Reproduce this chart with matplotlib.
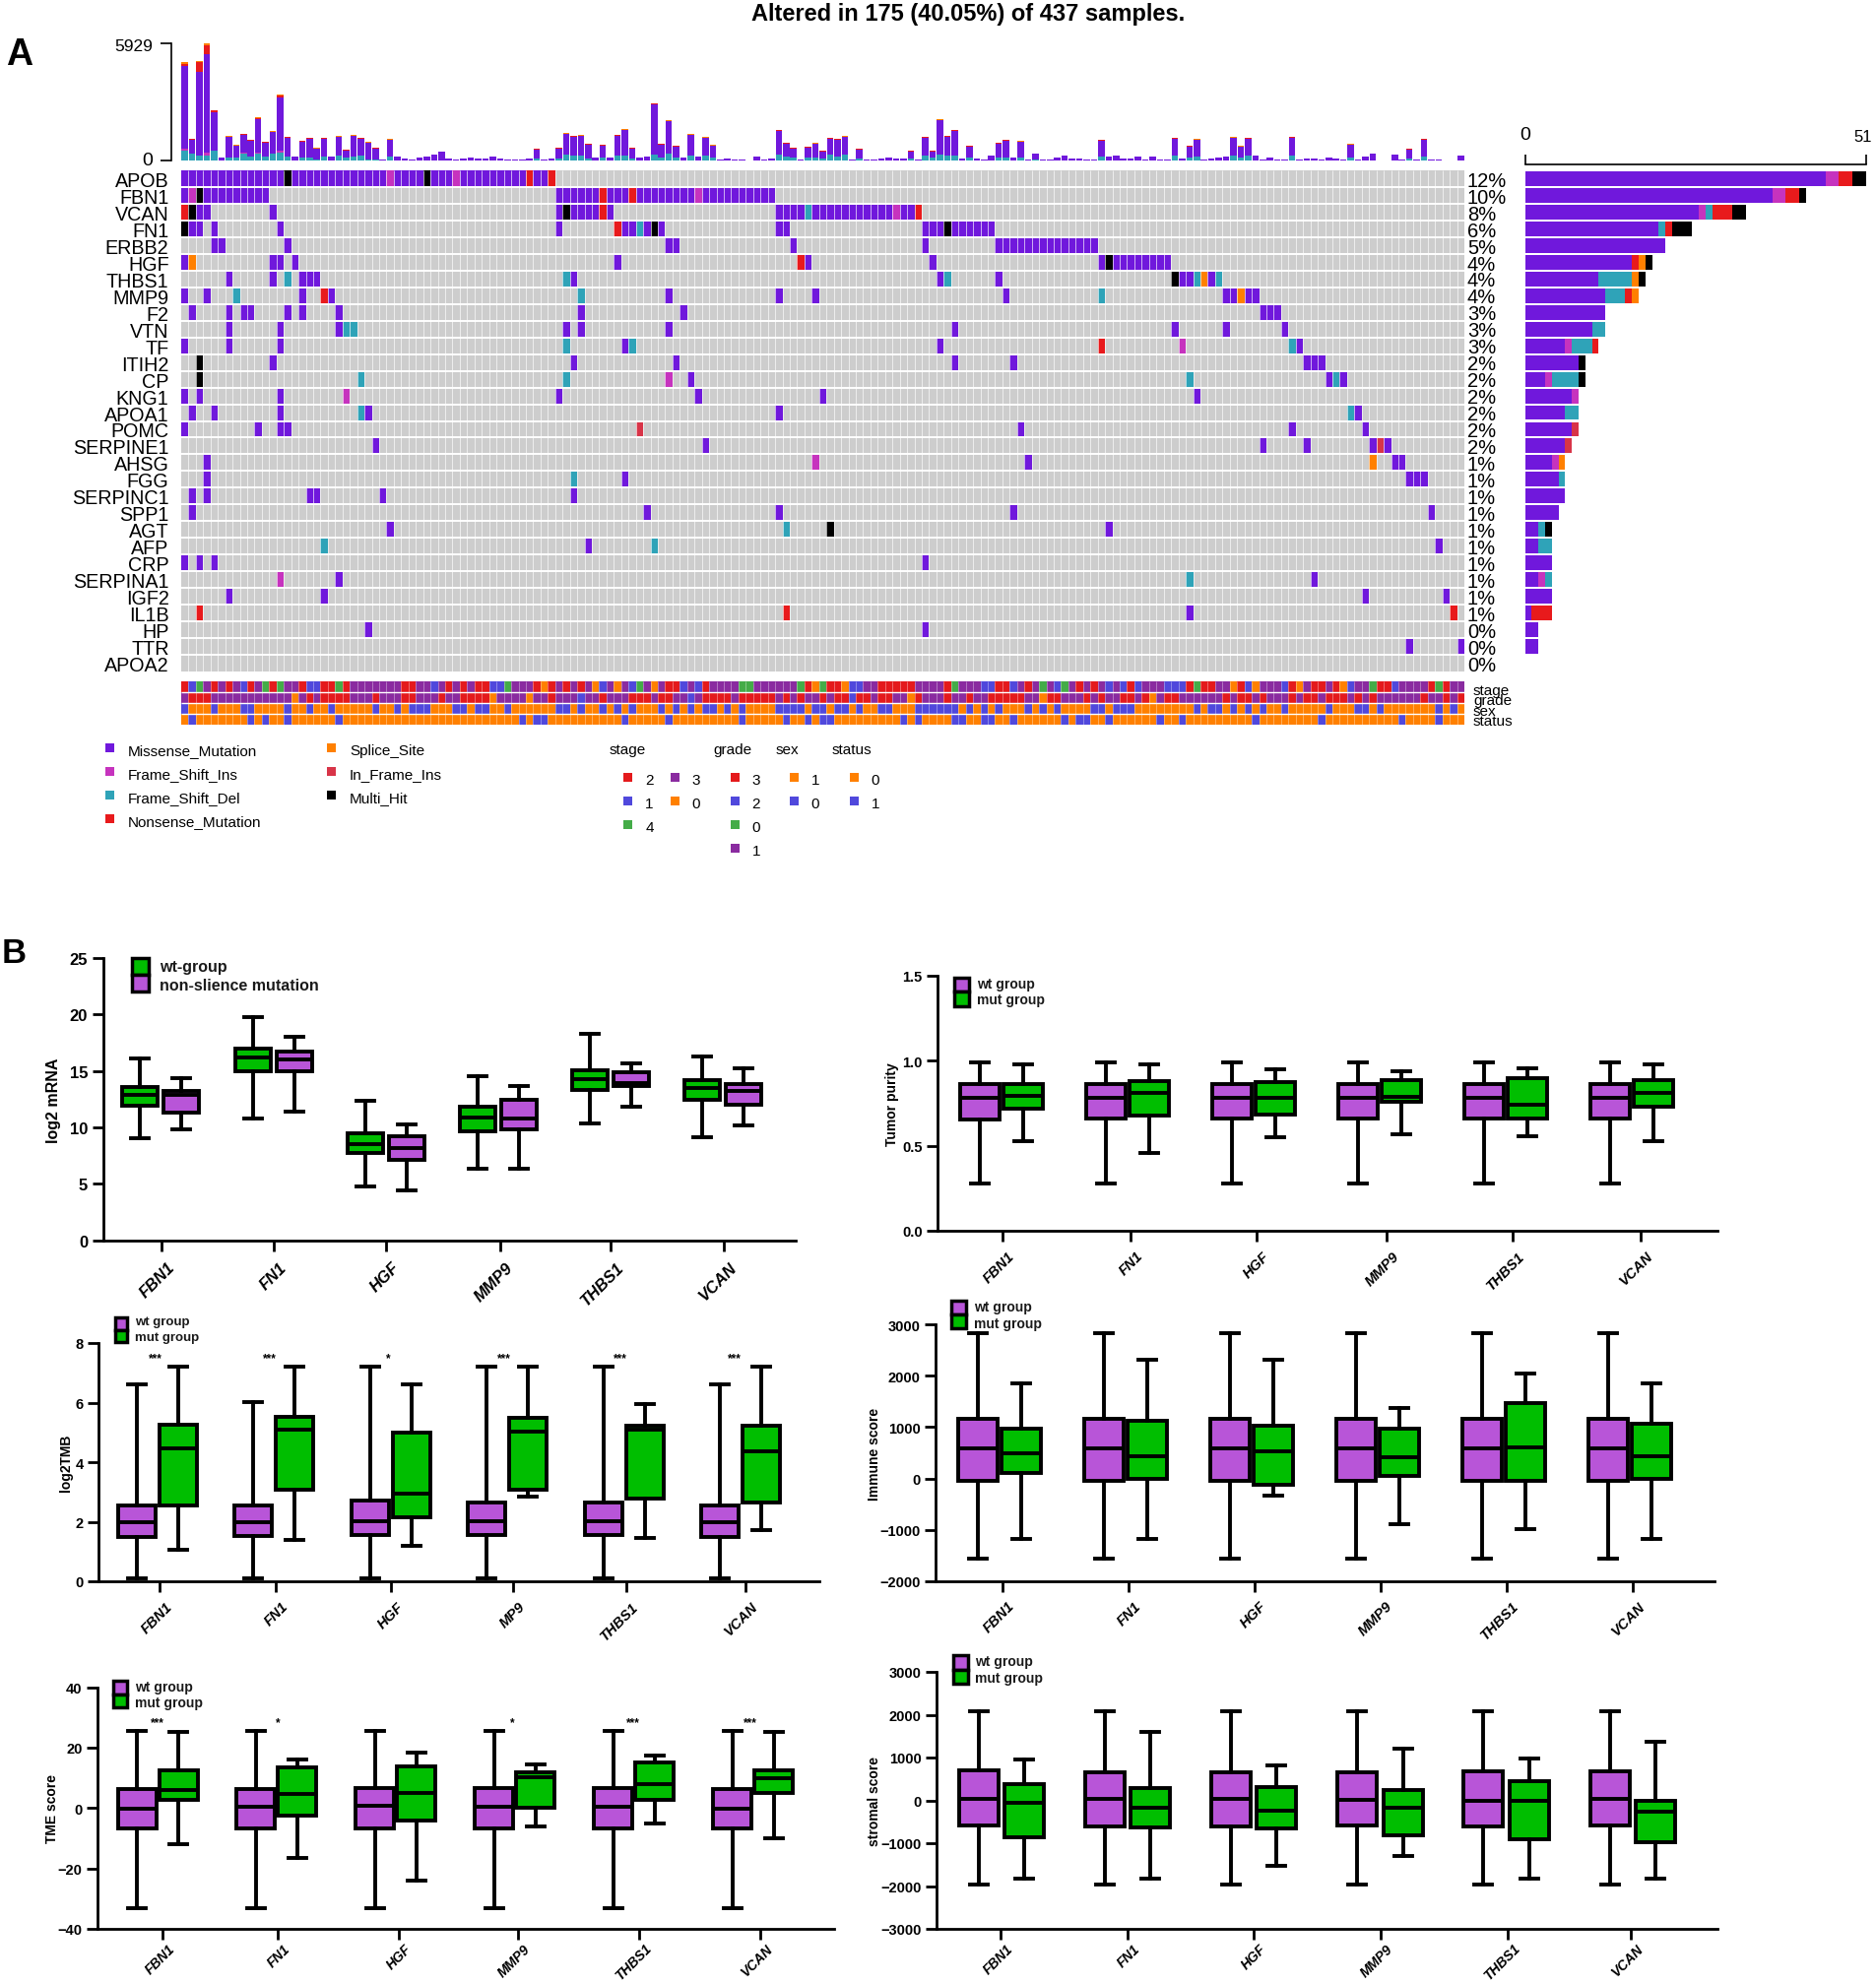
import numpy as np
import matplotlib
matplotlib.use("Agg")
import matplotlib.pyplot as plt
from matplotlib.colors import ListedColormap
from matplotlib.patches import Rectangle
from matplotlib.transforms import ScaledTranslation

plt.rcParams['font.family'] = ['Liberation Sans', 'DejaVu Sans']
W, H = 1905, 2015
fig = plt.figure(figsize=(W / 100, H / 100), dpi=100, facecolor='white')


def r(a, b):
    return list(range(a, b + 1))


# ---------------- oncoplot data: sample indices per variant class ----------------
GENES = ["APOB", "FBN1", "VCAN", "FN1", "ERBB2", "HGF", "THBS1", "MMP9", "F2", "VTN", "TF", "ITIH2", "CP",
         "KNG1", "APOA1", "POMC", "SERPINE1", "AHSG", "FGG", "SERPINC1", "SPP1", "AGT", "AFP", "CRP",
         "SERPINA1", "IGF2", "IL1B", "HP", "TTR", "APOA2"]
PCT = ["12%", "10%", "8%", "6%", "5%", "4%", "4%", "4%", "3%", "3%", "3%", "2%", "2%", "2%", "2%", "2%", "2%",
       "1%", "1%", "1%", "1%", "1%", "1%", "1%", "1%", "1%", "1%", "0%", "0%", "0%"]
APOB = {'M': r(0, 13) + r(15, 27) + r(29, 32) + r(34, 36) + r(38, 46) + [48, 49], 'I': [28, 37], 'N': [47, 50], 'H': [14, 33]}
FBN1 = {'M': [0] + r(3, 11) + r(51, 56) + r(58, 60) + r(62, 69) + r(71, 80), 'I': [1, 70], 'N': [57, 61], 'H': [2]}
VCAN = {'M': [2, 3, 12, 51] + r(53, 56) + [58] + r(81, 84) + r(86, 96) + [98, 99], 'I': [97], 'D': [85], 'N': [0, 57, 100], 'H': [1, 52]}
FN1 = {'M': [1, 2, 4, 13, 51, 60, 61, 63, 65, 81, 82, 101, 102, 103] + r(105, 110), 'D': [62], 'N': [59], 'H': [0, 64, 104]}
ERBB2 = {'M': [4, 5, 14, 66, 67, 83, 101] + r(111, 124)}
HGF = {'M': [0, 12, 13, 15, 59, 85, 102, 125] + r(127, 134), 'N': [84], 'S': [1], 'H': [126]}
THBS1 = {'M': [6, 12, 16, 17, 18, 53, 103, 111, 136, 137, 140], 'D': [14, 52, 104, 138, 141], 'S': [139], 'H': [135]}
MMP9 = {'M': [0, 3, 16, 20, 66, 81, 86, 112, 142, 143, 145, 146], 'D': [7, 54, 125], 'N': [19], 'S': [144]}
F2 = {'M': [1, 6, 8, 9, 14, 16, 21, 54, 68, 147, 148, 149]}
VTN = {'M': [6, 13, 21, 52, 54, 66, 105, 135, 142, 150], 'D': [22, 23]}
TF = {'M': [0, 6, 13, 60, 103, 152], 'I': [136], 'D': [52, 61, 151], 'N': [125]}
ITIH2 = {'M': [12, 53, 67, 105, 113, 153, 154, 155], 'H': [2]}
CP = {'M': [69, 156, 158], 'I': [66], 'D': [24, 52, 137, 157], 'H': [2]}
KNG1 = {'M': [0, 2, 13, 51, 70, 87, 138], 'I': [22]}
APOA1 = {'M': [1, 4, 13, 25, 81, 160], 'D': [24, 159]}
POMC = {'M': [0, 10, 13, 14, 114, 151, 161], 'F': [62]}
SERPINE1 = {'M': [26, 71, 147, 153, 162, 164], 'F': [163]}
AHSG = {'M': [3, 115, 165, 166], 'I': [86], 'S': [162]}
FGG = {'M': [3, 60, 167, 168, 169], 'D': [53]}
SERPINC1 = {'M': [1, 3, 17, 18, 27, 53]}
SPP1 = {'M': [1, 63, 81, 113, 170]}
AGT = {'M': [28, 126], 'D': [82], 'H': [88]}
AFP = {'M': [55, 171], 'D': [19, 64]}
CRP = {'M': [0, 2, 4, 101]}
SERPINA1 = {'M': [21, 154], 'I': [13], 'D': [137]}
IGF2 = {'M': [6, 19, 161, 172]}
IL1B = {'M': [137], 'N': [2, 82, 173]}
HP = {'M': [25, 101]}
TTR = {'M': [167, 174]}
APOA2 = {}
ROWS = [APOB, FBN1, VCAN, FN1, ERBB2, HGF, THBS1, MMP9, F2, VTN, TF, ITIH2, CP, KNG1, APOA1, POMC, SERPINE1,
        AHSG, FGG, SERPINC1, SPP1, AGT, AFP, CRP, SERPINA1, IGF2, IL1B, HP, TTR, APOA2]
CLASS_ORDER = ['M', 'I', 'D', 'N', 'S', 'F', 'H']
CLASS_NAMES = ["Missense_Mutation", "Frame_Shift_Ins", "Frame_Shift_Del", "Nonsense_Mutation", "Splice_Site",
               "In_Frame_Ins", "Multi_Hit"]
CLASS_COLORS = {'M': '#7018DC', 'I': '#C633BE', 'D': '#2FA3B8', 'N': '#E81A1C', 'S': '#FF8000', 'F': '#D83448', 'H': '#000000'}
GREY = '#CDCDCD'

# mutations per sample (top bars)
TMB_TOTAL = [4980, 1112, 5013, 5929, 2556, 149, 1228, 780, 1361, 1062,
             2191, 946, 1477, 3353, 1195, 199, 996, 1145, 631, 1162,
             183, 1228, 564, 1278, 1162, 930, 647, 33, 1079, 216,
             100, 50, 133, 183, 315, 448, 100, 50, 83, 149,
             100, 100, 216, 100, 66, 66, 33, 83, 614, 50,
             100, 647, 1378, 1262, 1278, 863, 166, 797, 149, 1311,
             1577, 647, 149, 216, 2888, 863, 2025, 747, 133, 1328,
             216, 1179, 780, 33, 83, 50, 66, 17, 216, 33,
             83, 1560, 913, 664, 50, 714, 880, 515, 1162, 1112,
             1228, 50, 614, 66, 66, 116, 149, 116, 116, 498,
             33, 1195, 498, 2075, 1262, 1560, 100, 764, 116, 33,
             232, 896, 1062, 149, 979, 66, 365, 33, 66, 133,
             232, 116, 83, 33, 33, 1062, 199, 266, 100, 100,
             183, 33, 183, 50, 33, 1145, 83, 764, 1079, 33,
             83, 166, 183, 1179, 730, 1162, 232, 50, 133, 50,
             50, 1212, 33, 100, 100, 66, 149, 100, 66, 830,
             66, 216, 349, 17, 17, 282, 50, 614, 66, 1112,
             33, 33, 17, 17, 266]
TMB_DEL = {0: 498, 1: 332, 2: 249, 3: 249, 4: 498, 6: 166, 7: 166, 8: 365, 9: 199, 10: 365, 11: 199, 12: 365,
           13: 415, 14: 216, 16: 166, 17: 166, 18: 50, 19: 199, 21: 232, 22: 133, 23: 199, 24: 266, 25: 50, 26: 50,
           28: 199, 48: 83, 51: 100, 52: 282, 53: 232, 54: 232, 55: 116, 57: 133, 59: 249, 60: 249, 61: 116,
           64: 299, 65: 166, 66: 332, 67: 133, 69: 232, 71: 249, 72: 133, 81: 299, 82: 199, 83: 133, 85: 166,
           86: 166, 87: 100, 88: 299, 89: 216, 90: 299, 92: 116, 99: 100, 101: 249, 102: 133, 103: 299, 104: 249,
           105: 249, 107: 166, 111: 166, 112: 166, 114: 133, 116: 50, 125: 199, 135: 232, 137: 133, 138: 199,
           143: 249, 144: 166, 145: 266, 151: 249, 159: 133, 167: 83, 169: 216}
TMB_INS = {0: 100, 1: 33, 3: 130, 8: 33, 10: 33, 13: 66}
TMB_NON = {0: 133, 2: 465, 3: 465, 4: 66, 10: 50, 13: 100}
TMB_SPL = {0: 83, 2: 50, 3: 100, 4: 33, 10: 33, 13: 66}
SMALL_CAP_SAMPLES = [1, 6, 7, 8, 9, 11, 12, 14, 16, 17, 18, 19, 21, 22, 23, 24, 25, 26, 28, 48, 51, 52, 53, 54, 55, 57,
                     59, 60, 61, 64, 65, 66, 67, 69, 71, 72, 81, 82, 83, 85, 86, 87, 88, 89, 90, 92, 99, 101, 102, 103,
                     104, 105, 107, 111, 112, 114, 125, 135, 137, 138, 143, 144, 145, 151, 159, 167, 169]
SMALL_NON = 35
SMALL_SPL = 20

# clinical annotation tracks
STAGE = ("rbgprprpbr" "pgrgpprbbr" "rgrppppppp" "rrppbprprp" "rrbbgpppro" "rprprpobpo" "pbgpoprrbp" "brppppggpp"
         "ppppgrogrr" "obbpprrrrr" "ppp" "prgpppb" "brrbprpgpb" "gprprpbpbr" "bpppbbbrgr" "rpporboppp" "broprrprob"
         "ppgrrbpppp" "rgrpp")
GRADE = ("prrrpppppp" "pppppoprpr" "rrrppprppp" "rrppprpprr" "rroppppopp" "rpppbpprpp" "prrrprrppb" "prrrrprrrr"
         "rprprpprpr" "rbrrprrppo" "rppprpprpp" "rrrrrpporr" "ppprprpprr" "proprrpppp" "pprprrprpp" "prprrprrrp"
         "rprppppppr" "pprpr" "p")
SEX_ZERO = [0, 4, 8, 9, 14, 17, 20, 26, 29, 31, 32, 33, 37, 38, 40, 41, 44, 51, 52, 54, 57, 59, 61, 65, 67, 69, 71, 72,
            74, 76, 81, 82, 83, 84, 86, 87, 89, 90, 92, 95, 96, 100, 101, 102, 103, 104, 105, 107, 109, 111, 115, 117,
            119, 124, 125, 127, 128, 129, 138, 140, 141, 143, 145, 147, 150, 156, 160, 161, 163, 171, 173]
STATUS_ONE = [1, 9, 11, 14, 21, 46, 48, 49, 60, 66, 76, 82, 85, 87, 88, 98, 100, 105, 106, 109, 110, 113, 120, 122, 123,
              126, 133, 136, 146, 155, 166, 171]
TRACK_NAMES = ["stage", "grade", "sex", "status"]
TRACK_COLORS = {'r': '#E41A1C', 'b': '#5048DC', 'g': '#44AC48', 'p': '#8A2BA0', 'o': '#FF8000'}

# legend entries for clinical tracks
STAGE_LEVELS = [("2", 'r'), ("1", 'b'), ("4", 'g'), ("3", 'p'), ("0", 'o')]
GRADE_LEVELS = [("3", 'r'), ("2", 'b'), ("0", 'g'), ("1", 'p')]
SEX_LEVELS = [("1", 'o'), ("0", 'b')]
STATUS_LEVELS = [("0", 'o'), ("1", 'b')]

# ---------------- box plot data: [low whisker, q1, median, q3, high whisker] ----------------
BOX_GENES = ["FBN1", "FN1", "HGF", "MMP9", "THBS1", "VCAN"]
TMB_LABELS = ["FBN1", "FN1", "HGF", "MP9", "THBS1", "VCAN"]
MRNA_WT = [[9.05, 11.9, 12.85, 13.6, 16.1], [10.75, 15.0, 16.2, 17.0, 19.8], [4.75, 7.75, 8.55, 9.45, 12.35],
           [6.3, 9.65, 10.85, 11.85, 14.5], [10.35, 13.3, 14.3, 15.1, 18.3], [9.15, 12.4, 13.45, 14.2, 16.3]]
MRNA_MUT = [[9.8, 11.35, 12.85, 13.25, 14.35], [11.4, 15.0, 16.0, 16.7, 18.0], [4.4, 7.15, 8.15, 9.2, 10.3],
            [6.35, 9.85, 10.8, 12.4, 13.7], [11.85, 13.65, 13.95, 14.9, 15.7], [10.2, 12.0, 13.2, 13.8, 15.25]]
TMB_WT = [[0.1, 1.5, 2.0, 2.55, 6.6], [0.1, 1.52, 2.0, 2.56, 6.02], [0.1, 1.55, 2.02, 2.7, 7.2],
          [0.1, 1.55, 2.02, 2.64, 7.2], [0.1, 1.55, 2.02, 2.64, 7.2], [0.1, 1.5, 2.0, 2.56, 6.6]]
TMB_MUT = [[1.07, 2.56, 4.47, 5.27, 7.2], [1.39, 3.06, 5.08, 5.52, 7.2], [1.19, 2.14, 2.93, 4.98, 6.6],
           [2.83, 3.08, 5.01, 5.5, 7.2], [1.44, 2.77, 5.1, 5.22, 5.95], [1.73, 2.64, 4.38, 5.22, 7.2]]
TME_WT = [[-33, -6.6, -0.1, 6.2, 25.6], [-33, -6.6, 0.3, 6.4, 25.6], [-33, -6.6, 0.6, 6.5, 25.6],
          [-33, -6.6, 0.4, 6.5, 25.6], [-33, -6.6, 0.3, 6.5, 25.6], [-33, -6.6, -0.1, 6.2, 25.6]]
TME_MUT = [[-12, 2.6, 5.9, 12.4, 25.3], [-16.6, -2.5, 4.8, 13.6, 16.2], [-24.1, -4.2, 5.05, 13.9, 18.3],
           [-6.2, 0.15, 10.1, 11.8, 14.3], [-5.2, 2.6, 7.8, 15.0, 17.5], [-10, 5.05, 9.8, 12.6, 25.3]]
PURITY_WT = [[0.28, 0.656, 0.783, 0.862, 0.99], [0.28, 0.66, 0.783, 0.862, 0.99], [0.28, 0.66, 0.783, 0.862, 0.99],
             [0.28, 0.66, 0.783, 0.862, 0.99], [0.28, 0.66, 0.783, 0.862, 0.99], [0.28, 0.66, 0.783, 0.862, 0.99]]
PURITY_MUT = [[0.529, 0.717, 0.793, 0.864, 0.976], [0.46, 0.679, 0.813, 0.88, 0.976], [0.55, 0.684, 0.78, 0.875, 0.95],
              [0.57, 0.76, 0.788, 0.885, 0.94], [0.554, 0.661, 0.742, 0.897, 0.956], [0.529, 0.73, 0.813, 0.887, 0.976]]
IMMUNE_WT = [[-1565, -42, 584, 1159, 2834]] * 6
IMMUNE_MUT = [[-1176, 101, 482, 973, 1861], [-1176, -17, 431, 1117, 2310], [-338, -118, 533, 1032, 2310],
              [-888, 42, 423, 973, 1379], [-981, -42, 600, 1463, 2047], [-1176, 0, 440, 1058, 1861]]
STROMAL_WT = [[-1962, -582, 23, 697, 2084], [-1962, -605, 23, 651, 2084], [-1962, -605, 23, 651, 2084],
              [-1962, -582, 15, 659, 2084], [-1962, -605, 0, 667, 2084], [-1962, -582, 38, 674, 2084]]
STROMAL_MUT = [[-1839, -866, -54, 375, 943], [-1839, -621, -169, 284, 1594], [-1540, -644, -230, 307, 812],
               [-1310, -812, -161, 238, 1218], [-1839, -897, -15, 444, 973], [-1839, -973, -268, -8, 1372]]
GREEN, VIOLET = '#00BE00', '#B855D8'


def px_axes(x0, y0, x1, y1, **kw):
    return fig.add_axes([x0 / W, 1 - y1 / H, (x1 - x0) / W, (y1 - y0) / H], **kw)


overlay = px_axes(0, 0, W, H)
overlay.set_xlim(0, W)
overlay.set_ylim(H, 0)
overlay.axis('off')
overlay.set_zorder(5)
overlay.patch.set_alpha(0)


def ot(x, y, s, **kw):
    kw.setdefault('va', 'center')
    overlay.text(x, y, s, **kw)


def sq(x, y, w, h, c, **kw):
    overlay.add_patch(Rectangle((x - w / 2, y - h / 2), w, h, facecolor=c, edgecolor=kw.pop('ec', 'none'), **kw))


ot(983, 14, "Altered in 175 (40.05%) of 437 samples.", ha='center', fontsize=17, fontweight='bold')
ot(6, 56, "A", fontsize=27, fontweight='bold')
ot(2, 969, "B", fontsize=25, fontweight='bold')

# ---------------- oncoplot main matrix ----------------
N = 175
X0, X1 = 184, 1487
Y0, Y1 = 174, 683
mat = np.zeros((len(GENES), N), dtype=int)
for i, row in enumerate(ROWS):
    for cls, cols in row.items():
        mat[i, cols] = CLASS_ORDER.index(cls) + 1
ax = px_axes(X0, Y0, X1, Y1)
ax.pcolormesh(np.arange(N + 1), np.arange(len(GENES) + 1), mat,
              cmap=ListedColormap([GREY] + [CLASS_COLORS[c] for c in CLASS_ORDER]), vmin=0, vmax=7)
ax.set_xlim(0, N)
ax.set_ylim(len(GENES), 0)
ax.vlines(np.arange(1, N), 0, len(GENES), color='white', lw=0.65, alpha=0.7)
ax.hlines(np.arange(1, len(GENES)), 0, N, color='white', lw=1.4)
ax.set_yticks(np.arange(len(GENES)) + 0.5, GENES, fontsize=14.2)
ax.tick_params(axis='y', length=0, pad=9)
ax.set_xticks([])
for s in ax.spines.values():
    s.set_visible(False)
for i, p in enumerate(PCT):
    ax.text(N + 0.4, i + 0.6, p, fontsize=14.5, va='center', ha='left')

# ---------------- top bars ----------------
ax = px_axes(X0, 45, X1, 164)
ax.set_xlim(0, N)
ax.set_ylim(0, 5929)
x = np.arange(N) + 0.5
total = np.array(TMB_TOTAL, float)
dele = np.array([TMB_DEL.get(i, 0) for i in range(N)], float)
ins = np.array([TMB_INS.get(i, 0) for i in range(N)], float)
non = np.array([TMB_NON.get(i, SMALL_NON if i in SMALL_CAP_SAMPLES else 0) for i in range(N)], float)
spl = np.array([TMB_SPL.get(i, SMALL_SPL if i in SMALL_CAP_SAMPLES else 0) for i in range(N)], float)
mis = total - dele - ins - non - spl
bottom = np.zeros(N)
for vals, c in [(dele, 'D'), (ins, 'I'), (mis, 'M'), (non, 'N'), (spl, 'S')]:
    ax.bar(x, vals, bottom=bottom, width=0.88, color=CLASS_COLORS[c], linewidth=0)
    bottom += vals
for s in ['top', 'right', 'bottom']:
    ax.spines[s].set_visible(False)
ax.spines['left'].set_position(('outward', 7))
ax.spines['left'].set_linewidth(1.2)
ax.set_xticks([])
ax.set_yticks([0, 5929])
ax.set_yticklabels([])
ax.tick_params(axis='y', length=8, width=1.2)
ot(155, 47, "5929", ha='right', fontsize=12.5)
ot(155, 164, "0", ha='right', fontsize=14)

# ---------------- right bars ----------------
BAR_X0, BAR_X1 = 1548.7, 1894.6
ax = px_axes(BAR_X0, Y0, BAR_X1, Y1)
ax.set_xlim(0, 51)
ax.set_ylim(len(GENES), 0)
ypos = np.arange(len(GENES)) + 0.5
left = np.zeros(len(GENES))
for c in CLASS_ORDER:
    cnt = np.array([len(row.get(c, [])) for row in ROWS], float)
    ax.barh(ypos, cnt, left=left, height=0.88, color=CLASS_COLORS[c], linewidth=0)
    left += cnt
ax.axis('off')
ax2 = px_axes(BAR_X0, 158, BAR_X1, 168)
ax2.set_xlim(0, 51)
ax2.set_ylim(0, 1)
for s in ['top', 'left', 'right']:
    ax2.spines[s].set_visible(False)
ax2.spines['bottom'].set_linewidth(1.2)
ax2.patch.set_alpha(0)
ax2.set_yticks([])
ax2.set_xticks([0, 51])
ax2.set_xticklabels([])
ax2.tick_params(axis='x', direction='in', length=7.5, width=1.2)
ot(BAR_X0, 138, "0", ha='center', fontsize=14)
ot(BAR_X1 - 3, 139, "51", ha='center', fontsize=12)

# ---------------- annotation tracks ----------------
stage = STAGE.ljust(N, 'p')[:N]
grade = GRADE.ljust(N, 'p')[:N]
sex = ['b' if i in SEX_ZERO else 'o' for i in range(N)]
status = ['b' if i in STATUS_ONE else 'o' for i in range(N)]
keys = list(TRACK_COLORS)
tr = np.array([[keys.index(k) for k in t] for t in (stage, grade, sex, status)])
ax = px_axes(X0, 693, X1, 737)
ax.pcolormesh(np.arange(N + 1), np.arange(5), tr, cmap=ListedColormap([TRACK_COLORS[k] for k in keys]), vmin=0, vmax=4)
ax.set_xlim(0, N)
ax.set_ylim(4, 0)
ax.vlines(np.arange(1, N), 0, 4, color='white', lw=0.5, alpha=0.5)
ax.hlines(np.arange(1, 4), 0, N, color='white', lw=1.0)
ax.axis('off')
for name, yy in zip(TRACK_NAMES, [702, 712, 723, 733]):
    ot(1496, yy, name, fontsize=11)

# ---------------- mutation legend ----------------
LEG_Y = [760, 784, 808, 832]
for name, cls, yy in zip(CLASS_NAMES[:4], CLASS_ORDER[:4], LEG_Y):
    sq(111, yy, 9, 9, CLASS_COLORS[cls])
    ot(130, yy + 3, name, fontsize=11)
for name, cls, yy in zip(CLASS_NAMES[4:], CLASS_ORDER[4:], LEG_Y):
    sq(336, yy, 9, 9, CLASS_COLORS[cls])
    ot(355, yy + 3, name, fontsize=11)
for name, xx in zip(TRACK_NAMES, [619, 724, 788, 845]):
    ot(xx, 762, name, fontsize=11)
CL_Y = [790, 814, 838, 862]


def clin_leg(levels, xsq, ys):
    for (lab, k), yy in zip(levels, ys):
        sq(xsq, yy, 9, 9, TRACK_COLORS[k])
        ot(xsq + 22, yy + 3, lab, ha='center', fontsize=11)


clin_leg(STAGE_LEVELS[:3], 637.5, CL_Y)
clin_leg(STAGE_LEVELS[3:], 685, CL_Y)
clin_leg(GRADE_LEVELS, 746, CL_Y)
clin_leg(SEX_LEVELS, 806, CL_Y)
clin_leg(STATUS_LEVELS, 867, CL_Y)


# ---------------- box panels ----------------
def box_panel(first, second, ylim, yticks, box, centers, half, bw, ticks_px, labels, ylabel, ylab_x, fs, lw=2.8,
              ytl=None, xpad=5, xfs=None):
    x0, y0, x1, y1 = box
    c0, pitch = centers
    ax = px_axes(x0, y0, x1, y1)
    ax.set_xlim((x0 - c0) / pitch, (x1 - c0) / pitch)
    ax.set_ylim(*ylim)
    for data, sgn in [(first, -1), (second, 1)]:
        vals, color = data
        stats = [dict(whislo=v[0], q1=v[1], med=v[2], q3=v[3], whishi=v[4], fliers=[]) for v in vals]
        pos = np.arange(6) + sgn * half / pitch
        ax.bxp(stats, positions=pos, widths=bw / pitch, capwidths=18 / pitch, patch_artist=True, showfliers=False,
               boxprops=dict(facecolor=color, edgecolor='black', linewidth=lw),
               medianprops=dict(color='black', linewidth=lw, solid_capstyle='butt'),
               whiskerprops=dict(color='black', linewidth=lw),
               capprops=dict(color='black', linewidth=lw), manage_ticks=False)
    for s in ['top', 'right']:
        ax.spines[s].set_visible(False)
    for s in ['left', 'bottom']:
        ax.spines[s].set_linewidth(2.0)
    ax.set_yticks(yticks)
    if ytl:
        ax.set_yticklabels(ytl)
    ax.tick_params(axis='y', length=8, width=2.0, labelsize=fs, pad=3)
    ax.set_xticks([(t - c0) / pitch for t in ticks_px])
    ax.set_xticklabels(labels, rotation=45, ha='right', va='top', rotation_mode='anchor', fontstyle='italic',
                       fontweight='bold', fontsize=xfs or fs)
    ax.tick_params(axis='x', length=8, width=2.0, pad=xpad)
    shift = ScaledTranslation(4 / 72, 0, fig.dpi_scale_trans)
    for t in ax.get_xticklabels():
        t.set_transform(t.get_transform() + shift)
    for t in ax.get_yticklabels():
        t.set_fontweight('bold')
    ot(ylab_x, (y0 + y1) / 2, ylabel, rotation=90, ha='center', fontweight='bold', fontsize=fs - 0.5)
    return ax


def box_legend(x0, x1, y0, y1, top_c, bot_c, tx, ty, labs, fs):
    ym = (y0 + y1) / 2
    overlay.add_patch(Rectangle((x0, y0), x1 - x0, ym - y0, facecolor=top_c, edgecolor='black', lw=2.5))
    overlay.add_patch(Rectangle((x0, ym), x1 - x0, y1 - ym, facecolor=bot_c, edgecolor='black', lw=2.5))
    for l, yy in zip(labs, ty):
        ot(tx, yy, l, fontsize=fs, fontweight='bold', color='#1a1a1a')


WM = ["wt group", "mut group"]
box_panel((MRNA_WT, GREEN), (MRNA_MUT, VIOLET), (0, 25), [0, 5, 10, 15, 20, 25], (104.5, 974, 808, 1260.7),
          (163.3, 114.2), 21, 36, [164, 278, 392, 508, 620, 735], BOX_GENES, "log2 mRNA", 55, 12, xpad=6)
box_legend(134, 151, 974, 1008, GREEN, VIOLET, 162, [983, 1002], ["wt-group", "non-slience mutation"], 11.5)

box_panel((TMB_WT, VIOLET), (TMB_MUT, GREEN), (0, 8), [0, 2, 4, 6, 8], (100, 1365, 832, 1607),
          (160, 118.4), 21, 38, [162, 280, 397, 521, 636, 757], TMB_LABELS, "log2TMB", 67, 10.5)
box_legend(116.5, 129, 1339, 1364, VIOLET, GREEN, 137, [1343.5, 1359], WM, 9.5)
for xs, s in zip([158, 274, 394, 512, 630, 746], ["***", "***", "*", "***", "***", "***"]):
    ot(xs, 1380, s, ha='center', fontsize=8.5, fontweight='bold')

box_panel((TME_WT, VIOLET), (TME_MUT, GREEN), (-40, 40), [-40, -20, 0, 20, 40], (99, 1714.5, 847, 1960),
          (160, 120.9), 21, 39, [165, 282, 405, 526, 649, 772], BOX_GENES, "TME score", 53, 10.5, xpad=1, xfs=10)
box_legend(115, 129, 1708, 1735, VIOLET, GREEN, 137, [1714, 1730], WM, 10)
for xs, s in zip([160, 282, 520, 643, 762], ["***", "*", "*", "***", "***"]):
    ot(xs, 1750, s, ha='center', fontsize=8.5, fontweight='bold')

box_panel((PURITY_WT, VIOLET), (PURITY_MUT, GREEN), (0, 1.5), [0, 0.5, 1.0, 1.5], (952, 992, 1744, 1251),
          (1017, 128), 22.4, 40, [1017.5, 1148, 1276, 1408, 1536, 1666], BOX_GENES, "Tumor purity", 906, 10.5,
          ytl=["0.0", "0.5", "1.0", "1.5"])
box_legend(969, 984, 993.5, 1022.5, VIOLET, GREEN, 992, [1000, 1016], WM, 10)

box_panel((IMMUNE_WT, VIOLET), (IMMUNE_MUT, GREEN), (-2000, 3000), [-2000, -1000, 0, 1000, 2000, 3000],
          (950, 1346.4, 1741, 1606.6), (1015, 128), 22, 40, [1017.5, 1145.5, 1273.6, 1401.6, 1529.6, 1657.6], BOX_GENES,
          "Immune score", 888, 10.5)
box_legend(966.4, 981, 1322, 1350, VIOLET, GREEN, 989, [1328, 1345], WM, 10)

box_panel((STROMAL_WT, VIOLET), (STROMAL_MUT, GREEN), (-3000, 3000), [-3000, -2000, -1000, 0, 1000, 2000, 3000],
          (951, 1699, 1744, 1960), (1016.7, 128.2), 23.2, 40, [1016, 1145, 1273, 1401.6, 1531, 1656], BOX_GENES,
          "stromal score", 888, 10.5, xpad=1, xfs=10)
box_legend(968, 982.5, 1682, 1711, VIOLET, GREEN, 990.5, [1688, 1705], WM, 10)

fig.savefig("out.png", dpi=100, facecolor='white')
